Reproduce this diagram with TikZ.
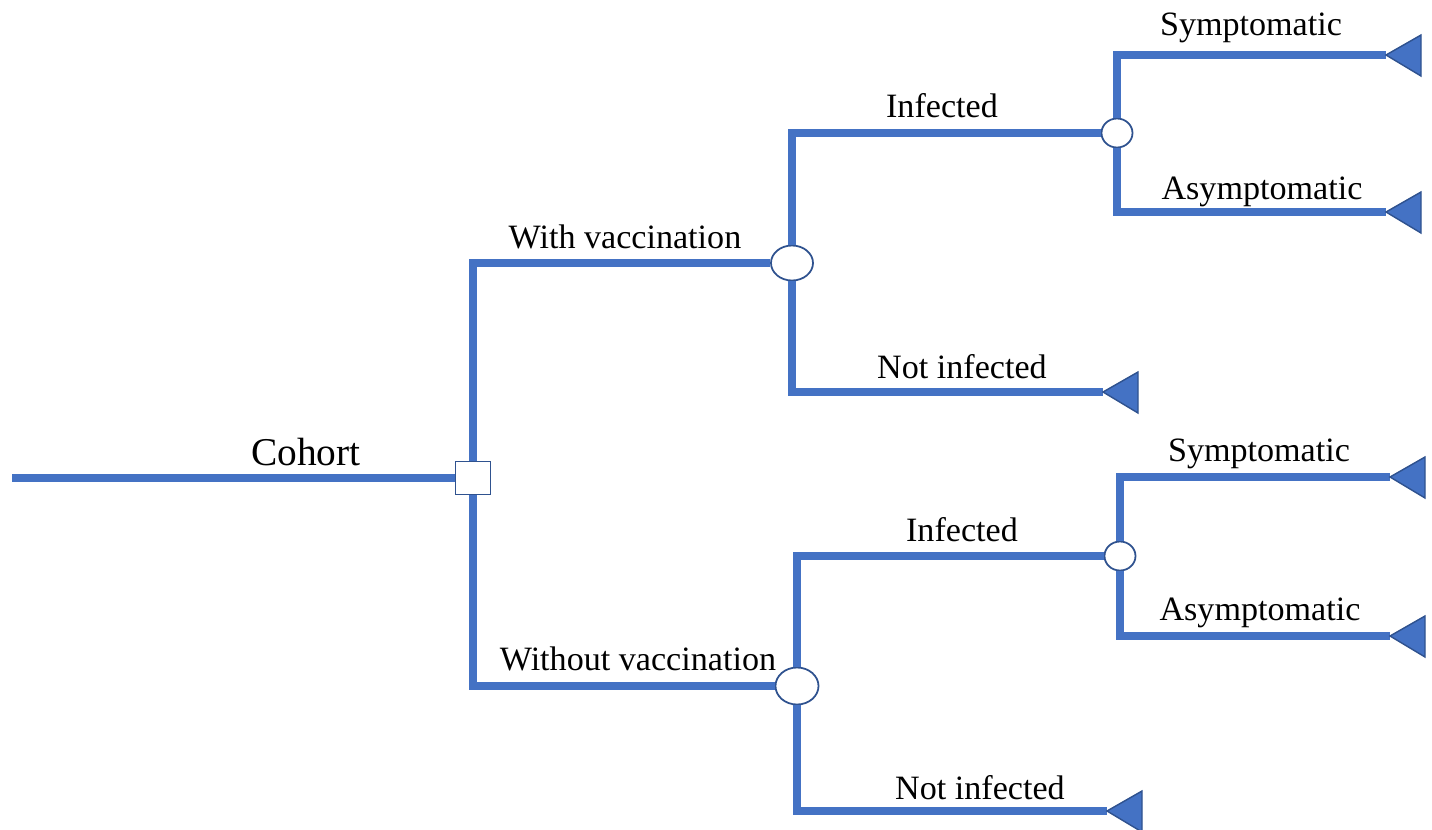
\documentclass[tikz,border=0pt]{standalone}
\usepackage{fontspec}
\setmainfont{Liberation Serif}
\usetikzlibrary{shapes.geometric}
\definecolor{lcol}{HTML}{4472C4}
\definecolor{ecol}{HTML}{2F528F}

\begin{document}
\begin{tikzpicture}[x=0.01cm, y=-0.01cm,
  branch/.style={lcol, line width=2.5pt},
  decbox/.style={draw=ecol, fill=white, line width=0.5pt, minimum width=0.35cm, minimum height=0.33cm, inner sep=0pt},
  chance/.style={ellipse, draw=ecol, fill=white, line width=0.5pt, inner sep=0pt},
  term/.style={fill=lcol, draw=ecol, line width=0.4pt},
  lbl/.style={anchor=base, inner sep=0pt, font=\fontsize{9.7pt}{11pt}\selectfont}]
\useasboundingbox (0,0) rectangle (1432,829);

% decision and chance nodes
\coordinate (root) at (12,478);
\node[decbox] (dec) at (473,478) {};
\node[chance, minimum width=0.42cm, minimum height=0.35cm] (chA) at (792,263) {};
\node[chance, minimum width=0.43cm, minimum height=0.37cm] (chB) at (797,686) {};
\node[chance, minimum width=0.31cm, minimum height=0.29cm] (chA1) at (1117,133) {};
\node[chance, minimum width=0.31cm, minimum height=0.29cm] (chB1) at (1120,556) {};

% terminal ends
\coordinate (tA1) at (1386,55);
\coordinate (tA2) at (1386,212);
\coordinate (tA0) at (1103,392);
\coordinate (tB1) at (1390,477);
\coordinate (tB2) at (1390,636);
\coordinate (tB0) at (1107,811);

% branches
\draw[branch] (root) -- (dec);
\draw[branch] (dec) |- (chA);
\draw[branch] (dec) |- (chB);
\draw[branch] (chA) |- (chA1);
\draw[branch] (chA) |- (tA0);
\draw[branch] (chA1) |- (tA1);
\draw[branch] (chA1) |- (tA2);
\draw[branch] (chB) |- (chB1);
\draw[branch] (chB) |- (tB0);
\draw[branch] (chB1) |- (tB1);
\draw[branch] (chB1) |- (tB2);

\foreach \t in {tA1,tA2,tA0,tB1,tB2,tB0}
  \filldraw[term] (\t) -- ++(35,-20) -- ++(0,41) -- cycle;

% labels
\node[lbl, font=\fontsize{11.2pt}{13pt}\selectfont] (lCoh) at (306,465) {Cohort};
\node[lbl] (lVac) at (625,248) {With vaccination};
\node[lbl] (lNoVac) at (638,670) {Without vaccination};
\node[lbl] (lInfA) at (942,117) {Infected};
\node[lbl] (lNotA) at (962,378) {Not infected};
\node[lbl] (lSymA) at (1251,35) {Symptomatic};
\node[lbl] (lAsyA) at (1262,199) {Asymptomatic};
\node[lbl] (lInfB) at (962,541) {Infected};
\node[lbl] (lNotB) at (980,799) {Not infected};
\node[lbl] (lSymB) at (1259,461) {Symptomatic};
\node[lbl] (lAsyB) at (1260,620) {Asymptomatic};
\end{tikzpicture}
\end{document}
